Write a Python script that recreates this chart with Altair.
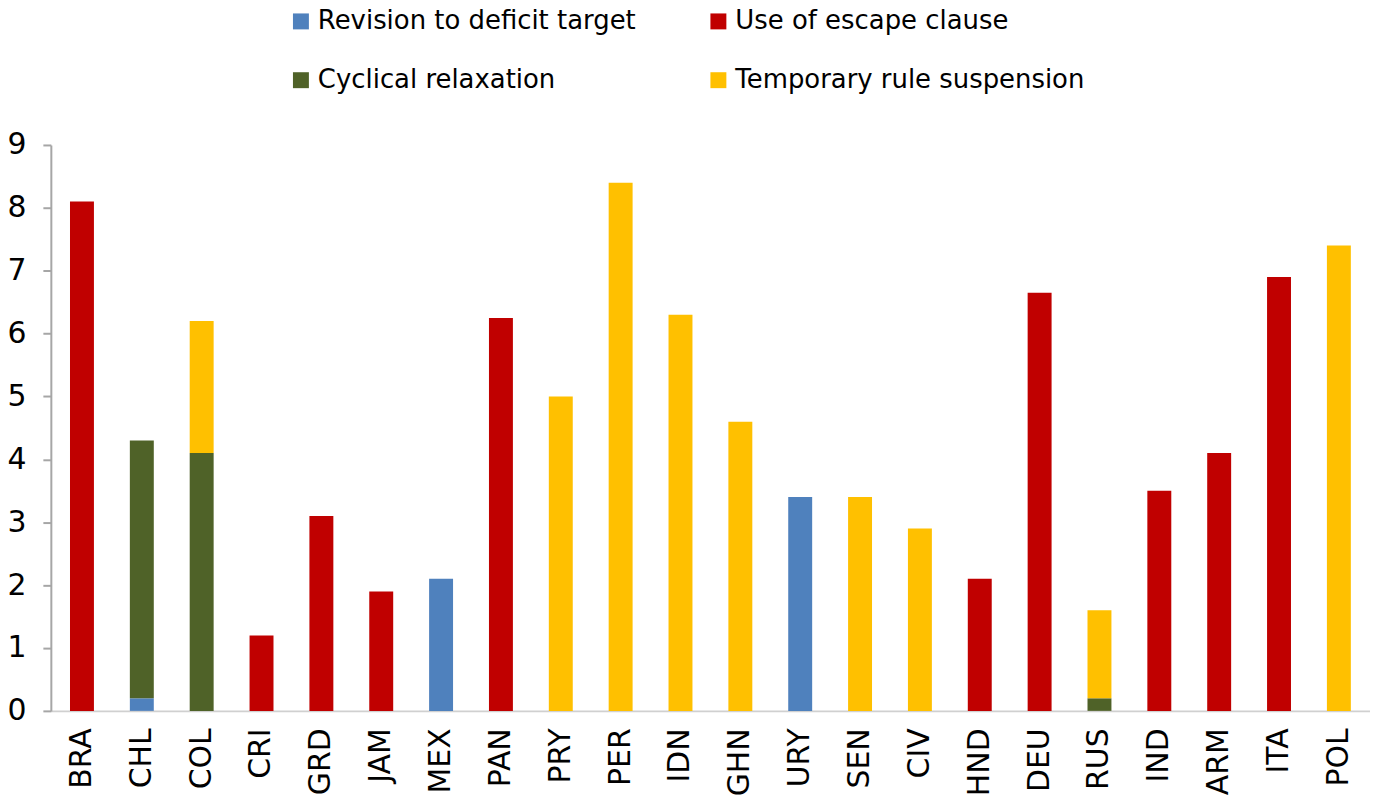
import altair as alt
import pandas as pd

countries = ["BRA", "CHL", "COL", "CRI", "GRD", "JAM", "MEX", "PAN", "PRY", "PER", "IDN",
             "GHN", "URY", "SEN", "CIV", "HND", "DEU", "RUS", "IND", "ARM", "ITA", "POL"]

# legend order (column-major fill: col 1 = first two, col 2 = last two)
series_names = ["Revision to deficit target", "Cyclical relaxation",
                "Use of escape clause", "Temporary rule suspension"]
stack_rank = [0, 1, 2, 3]
series_colors = ["#4F81BD", "#4F6228", "#C00000", "#FFC000"]

revision  = [0, 0.2, 0, 0, 0, 0, 2.1, 0, 0, 0, 0, 0, 3.4, 0, 0, 0, 0, 0, 0, 0, 0, 0]
cyclical  = [0, 4.1, 4.1, 0, 0, 0, 0, 0, 0, 0, 0, 0, 0, 0, 0, 0, 0, 0.2, 0, 0, 0, 0]
escape    = [8.1, 0, 0, 1.2, 3.1, 1.9, 0, 6.25, 0, 0, 0, 0, 0, 0, 0, 2.1, 6.65, 0, 3.5, 4.1, 6.9, 0]
temporary = [0, 0, 2.1, 0, 0, 0, 0, 0, 5.0, 8.4, 6.3, 4.6, 0, 3.4, 2.9, 0, 0, 1.4, 0, 0, 0, 7.4]

y_ticks = [0, 1, 2, 3, 4, 5, 6, 7, 8, 9]

rows = []
for name, rank, vals in zip(series_names, stack_rank, [revision, cyclical, escape, temporary]):
    for c, v in zip(countries, vals):
        if v > 0:
            rows.append({"country": c, "series": name, "rank": rank, "value": v})
df = pd.DataFrame(rows)

FONT = "DejaVu Sans"

chart = alt.Chart(df).mark_bar().encode(
    x=alt.X("country:N", sort=countries,
            scale=alt.Scale(paddingInner=0.6, paddingOuter=0.32),
            axis=alt.Axis(title=None, labelAngle=-90, ticks=False, tickSize=0,
                          labelPadding=17, labelFontSize=30, labelFont=FONT,
                          labelColor="#000000", domainColor="#D0D0D0", domainWidth=2)),
    y=alt.Y("value:Q", stack="zero",
            scale=alt.Scale(domain=[0, 9], nice=False),
            axis=alt.Axis(title=None, values=y_ticks, grid=False, tickSize=8,
                          tickColor="#A6A6A6", domainColor="#A6A6A6", domainWidth=2,
                          tickWidth=2, labelPadding=17, labelFontSize=30, labelFont=FONT,
                          labelColor="#000000")),
    color=alt.Color("series:N",
                    scale=alt.Scale(domain=series_names, range=series_colors),
                    legend=alt.Legend(title=None, orient="none", legendX=238, legendY=-137,
                                      columns=2, columnPadding=69, rowPadding=33,
                                      symbolType="square", symbolSize=256,
                                      symbolStrokeWidth=0, labelOffset=4,
                                      labelFontSize=26, labelFont=FONT,
                                      labelColor="#000000", padding=0,
                                      labelLimit=600)),
    order=alt.Order("rank:Q", sort="ascending"),
).properties(
    width=1324, height=568,
    padding={"left": 43, "top": 136, "right": 0, "bottom": 90},
    autosize=alt.AutoSizeParams(type="none"),
).configure(background="white").configure_view(stroke=None, strokeWidth=0)

chart.save("out.html", embed_options={"renderer": "svg", "actions": False})
